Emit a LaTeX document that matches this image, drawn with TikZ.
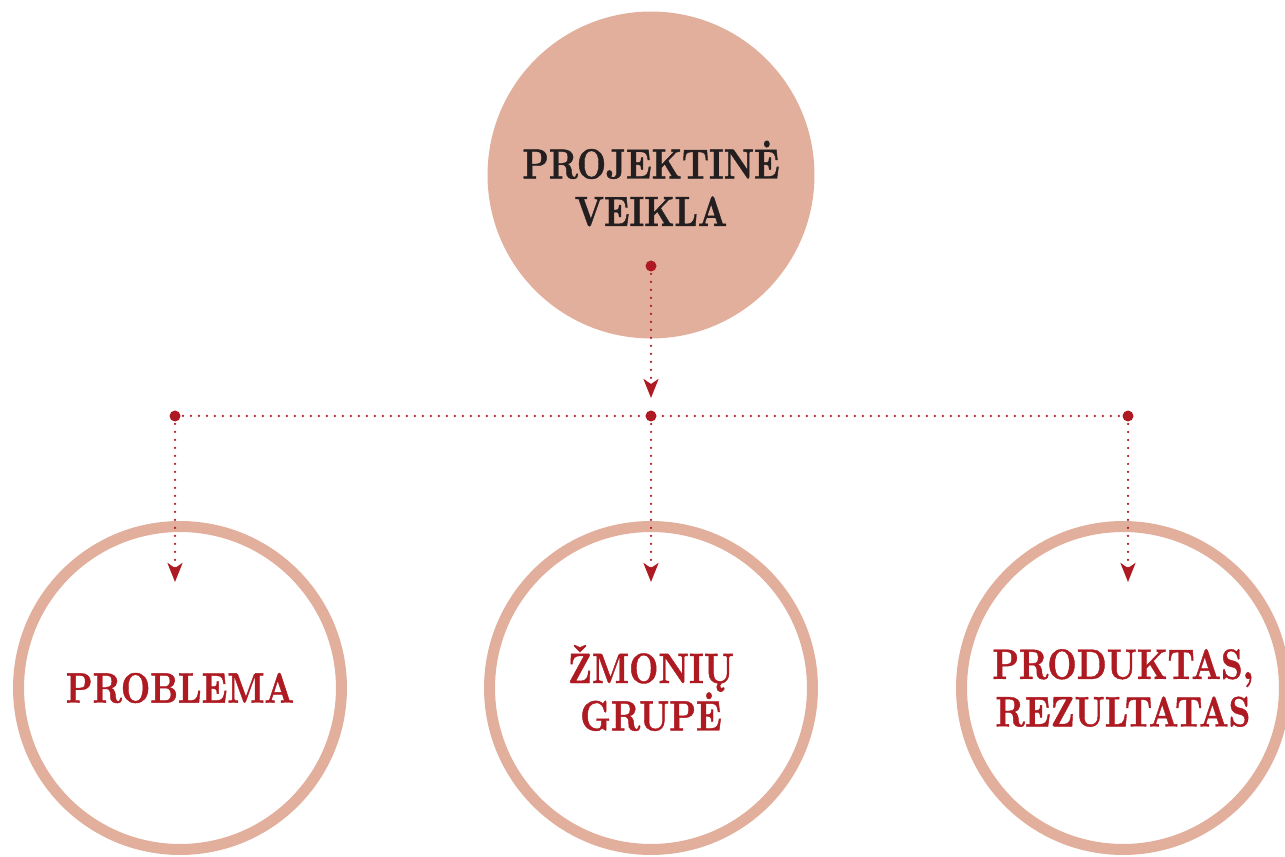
\documentclass[tikz,border=0pt]{standalone}
\usepackage{fontspec}
\newfontfamily\headfont{lmroman10-bold.otf}[FakeStretch=0.8, FakeBold=1]
\usetikzlibrary{arrows.meta}
\definecolor{rose}{HTML}{E1AF9C}
\definecolor{wine}{HTML}{AE1A21}
\definecolor{ink}{HTML}{231F20}
\tikzset{
  bigdisc/.style={circle, fill=rose, minimum size=6.54cm, inner sep=0pt},
  bigtext/.style={font=\headfont\fontsize{24}{27}\selectfont, text=ink, align=center, inner sep=0pt},
  ringdisc/.style={circle, draw=rose, line width=0.22cm, minimum size=6.46cm, inner sep=0pt,
    font=\headfont\fontsize{24.2}{27}\selectfont, text=wine, align=center},
  dotline/.style={wine, line width=0.05cm, dash pattern=on 0pt off 0.16cm, line cap=round},
  tip/.style={-{Stealth[length=0.38cm, width=0.3cm, inset=0.1cm]}}
}
\begin{document}
\begin{tikzpicture}[x=0.02cm, y=-0.02cm]
\clip (0,0) rectangle (1285,857);

% Main circle and the three circles below it
\node [bigdisc] (top) at (651,175) {};
\node [bigtext] (topText) at ([yshift=-0.17cm]top.center) {PROJEKTINĖ\\VEIKLA};
\node [ringdisc] (prob) at (180,688) {PROBLEMA};
\node [ringdisc] (grp) at (651,688) {ŽMONIŲ\\GRUPĖ};
\node [ringdisc] (prod) at (1123,688) {PRODUKTAS,\\REZULTATAS};

% Points of the branching
\coordinate (src) at (651,266);
\coordinate (hub) at (651,416);
\coordinate (hubL) at (175,416);
\coordinate (hubR) at (1128,416);
\coordinate (probIn) at (175,582);
\coordinate (grpIn) at (651,582);
\coordinate (prodIn) at (1128,582);

% Dotted connectors
\draw [dotline, tip] (src)--([yshift=0.36cm]hub);
\draw [dotline] (hubL)--(hubR);
\foreach \a/\b in {hubL/probIn, hub/grpIn, hubR/prodIn}
	\draw [dotline, tip] (\a)--(\b);

% Dots at the ends of the lines
\foreach \p in {src, hub, hubL, hubR}
	\fill [wine] (\p) circle (0.11cm);

\end{tikzpicture}
\end{document}
